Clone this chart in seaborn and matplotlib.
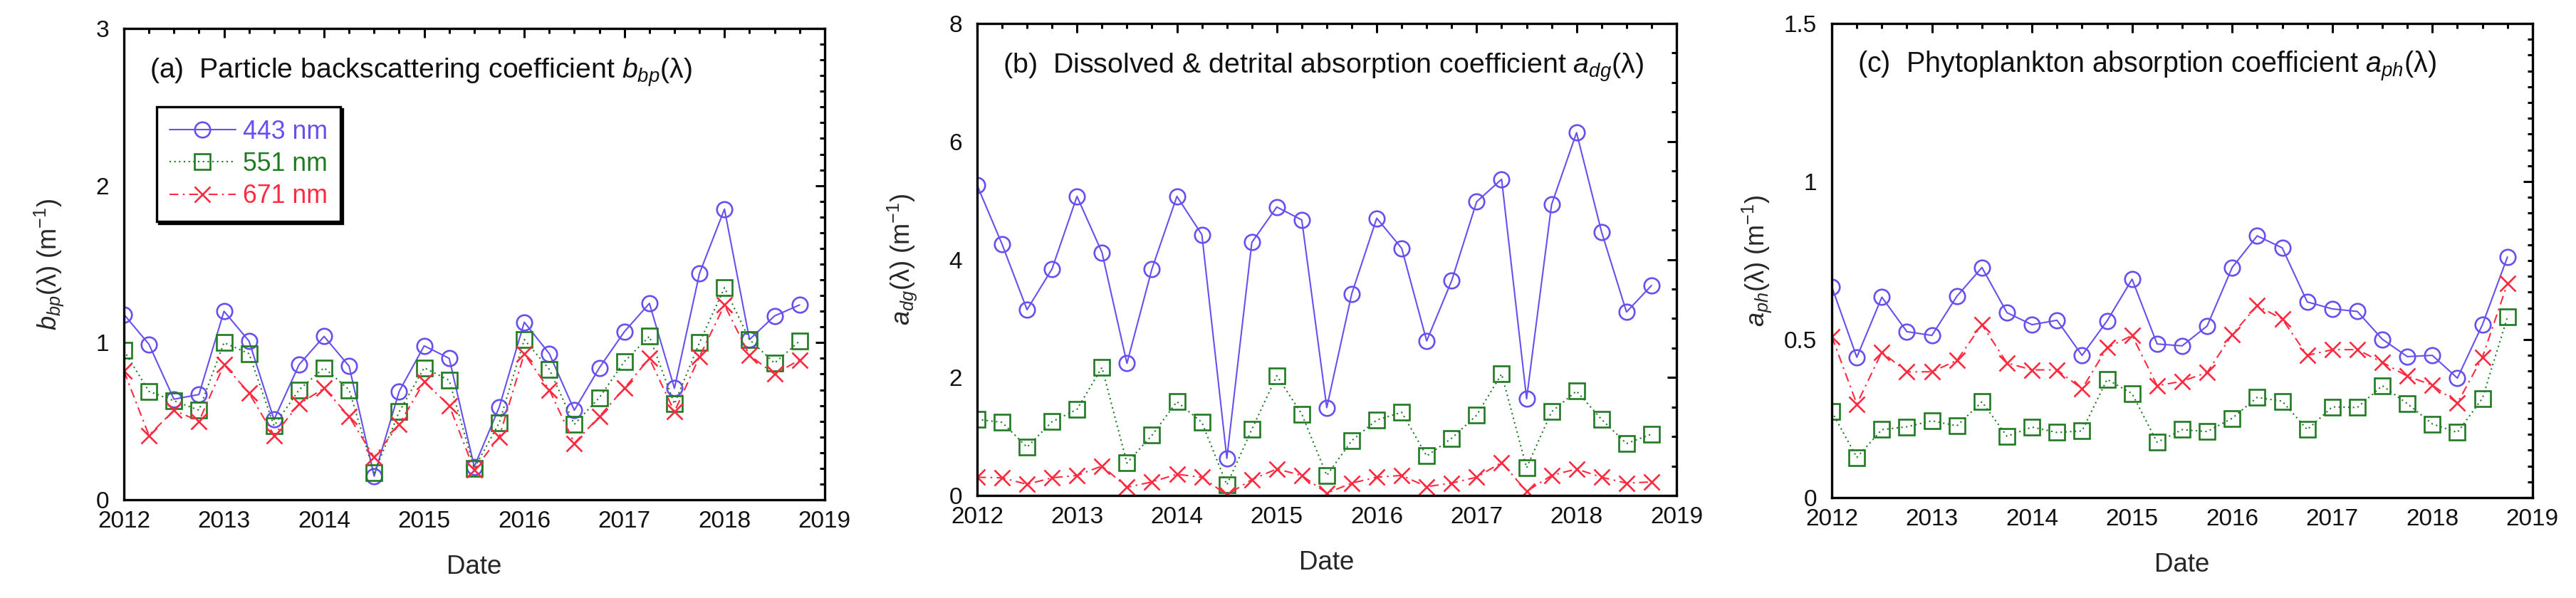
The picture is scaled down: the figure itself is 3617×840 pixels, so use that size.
import matplotlib
matplotlib.use("Agg")
import matplotlib.pyplot as plt
from matplotlib.ticker import MultipleLocator
import pandas as pd
import seaborn as sns

# ---------------- data ----------------
dates = [2012.00, 2012.25, 2012.50, 2012.75, 2013.00, 2013.25, 2013.50, 2013.75,
         2014.00, 2014.25, 2014.50, 2014.75, 2015.00, 2015.25, 2015.50, 2015.75,
         2016.00, 2016.25, 2016.50, 2016.75, 2017.00, 2017.25, 2017.50, 2017.75,
         2018.00, 2018.25, 2018.50, 2018.75]

wavelengths = ["443 nm", "551 nm", "671 nm"]

bbp_443 = [1.18, 0.99, 0.64, 0.67, 1.20, 1.01, 0.51, 0.86, 1.04, 0.85, 0.15, 0.69, 0.98, 0.90,
           0.21, 0.59, 1.13, 0.93, 0.57, 0.84, 1.07, 1.25, 0.71, 1.44, 1.85, 1.02, 1.17, 1.24]
bbp_551 = [0.95, 0.69, 0.63, 0.57, 1.00, 0.93, 0.47, 0.70, 0.84, 0.70, 0.17, 0.56, 0.84, 0.76,
           0.20, 0.49, 1.02, 0.83, 0.48, 0.65, 0.88, 1.04, 0.61, 1.00, 1.35, 1.02, 0.87, 1.01]
bbp_671 = [0.82, 0.41, 0.57, 0.50, 0.86, 0.68, 0.41, 0.61, 0.71, 0.53, 0.27, 0.48, 0.75, 0.60,
           0.19, 0.40, 0.93, 0.70, 0.36, 0.53, 0.71, 0.90, 0.56, 0.91, 1.24, 0.92, 0.80, 0.89]

adg_443 = [5.26, 4.26, 3.15, 3.84, 5.07, 4.12, 2.24, 3.84, 5.07, 4.42, 0.63, 4.29, 4.89, 4.67,
           1.49, 3.42, 4.70, 4.19, 2.62, 3.64, 4.98, 5.36, 1.64, 4.93, 6.15, 4.47, 3.11, 3.56]
adg_551 = [1.29, 1.24, 0.82, 1.25, 1.46, 2.17, 0.55, 1.02, 1.59, 1.24, 0.18, 1.12, 2.03, 1.38,
           0.34, 0.93, 1.28, 1.41, 0.67, 0.97, 1.36, 2.06, 0.47, 1.42, 1.77, 1.29, 0.88, 1.04]
adg_671 = [0.31, 0.30, 0.19, 0.30, 0.34, 0.50, 0.14, 0.23, 0.36, 0.31, 0.01, 0.27, 0.45, 0.34,
           0.04, 0.21, 0.31, 0.34, 0.15, 0.21, 0.31, 0.56, 0.07, 0.34, 0.45, 0.31, 0.21, 0.23]

aph_443 = [0.667, 0.444, 0.634, 0.525, 0.513, 0.637, 0.728, 0.585, 0.547, 0.561, 0.450, 0.559,
           0.691, 0.486, 0.480, 0.543, 0.728, 0.828, 0.790, 0.619, 0.597, 0.589, 0.501, 0.446,
           0.450, 0.378, 0.547, 0.761]
aph_551 = [0.272, 0.127, 0.215, 0.224, 0.243, 0.227, 0.303, 0.194, 0.223, 0.206, 0.211, 0.374,
           0.329, 0.175, 0.215, 0.209, 0.251, 0.317, 0.305, 0.215, 0.287, 0.285, 0.354, 0.297,
           0.233, 0.206, 0.314, 0.571]
aph_671 = [0.510, 0.296, 0.460, 0.398, 0.398, 0.434, 0.547, 0.426, 0.404, 0.404, 0.344, 0.474,
           0.513, 0.354, 0.368, 0.396, 0.516, 0.607, 0.565, 0.450, 0.468, 0.468, 0.428, 0.384,
           0.356, 0.299, 0.444, 0.677]

year_ticks = [2012, 2013, 2014, 2015, 2016, 2017, 2018, 2019]

# ---------------- style ----------------
sns.set_theme(style="white")
plt.rcParams["font.family"] = ["Liberation Sans", "DejaVu Sans"]
plt.rcParams["mathtext.fontset"] = "custom"
plt.rcParams["mathtext.rm"] = "Liberation Sans"
plt.rcParams["mathtext.it"] = "Liberation Sans:italic"
plt.rcParams["mathtext.bf"] = "Liberation Sans:bold"

C_BLUE = "#6650f0"
C_GREEN = "#1f7a22"
C_RED = "#ff2a40"

series_style = {
    "443 nm": dict(color=C_BLUE, marker="o", linestyle="-"),
    "551 nm": dict(color=C_GREEN, marker="s", linestyle=(0, (1, 2.2))),
    "671 nm": dict(color=C_RED, marker="x", linestyle=(0, (6, 3, 1.2, 3))),
}

fig = plt.figure(figsize=(36.17, 8.4), dpi=100)
fig.patch.set_facecolor("white")

panels = [
    dict(rect=[0.0481, 0.1643, 0.2720, 0.7881], data=[bbp_443, bbp_551, bbp_671],
         ylim=(0, 3), minor=0.1, yticks=[0, 1, 2, 3], yticklabels=["0", "1", "2", "3"],
         title=r"(a)  Particle backscattering coefficient $b_{bp}$(λ)", title_w=765,
         ylabel=r"$b_{bp}$(λ) (m$^{-1}$)", legend=True),
    dict(rect=[0.3793, 0.1714, 0.2715, 0.7893], data=[adg_443, adg_551, adg_671],
         ylim=(0, 8), minor=0.5, yticks=[0, 2, 4, 6, 8], yticklabels=["0", "2", "4", "6", "8"],
         title=r"(b)  Dissolved & detrital absorption coefficient $a_{dg}$(λ)", title_w=902,
         ylabel=r"$a_{dg}$(λ) (m$^{-1}$)", legend=False),
    dict(rect=[0.7111, 0.1679, 0.2720, 0.7929], data=[aph_443, aph_551, aph_671],
         ylim=(0, 1.5), minor=0.05, yticks=[0, 0.5, 1, 1.5],
         yticklabels=["0", "0.5", "1", "1.5"],
         title=r"(c)  Phytoplankton absorption coefficient $a_{ph}$(λ)", title_w=815,
         ylabel=r"$a_{ph}$(λ) (m$^{-1}$)", legend=False),
]

LEG_W, LEG_H = 258.0, 161.0   # legend box size in the reference, pixels

titles = []
legend_info = None
for p in panels:
    ax = fig.add_axes(p["rect"])
    ax.set_facecolor("white")
    for name, vals in zip(wavelengths, p["data"]):
        st = series_style[name]
        df = pd.DataFrame({"date": dates, "value": vals})
        sns.lineplot(data=df, x="date", y="value", ax=ax, sort=False, estimator=None,
                     color=st["color"], linestyle=st["linestyle"], linewidth=1.5,
                     marker=st["marker"], markersize=15.5, markerfacecolor="none",
                     markeredgecolor=st["color"], markeredgewidth=1.9,
                     label=name if p["legend"] else None, legend=False)
    ax.set_xlim(2012, 2019)
    ax.set_ylim(*p["ylim"])
    ax.set_xticks(year_ticks)
    ax.set_xticklabels([str(y) for y in year_ticks])
    ax.xaxis.set_minor_locator(MultipleLocator(0.25))
    ax.set_yticks(p["yticks"])
    ax.set_yticklabels(p["yticklabels"])
    ax.yaxis.set_minor_locator(MultipleLocator(p["minor"]))
    ax.tick_params(which="both", direction="in", top=True, right=True, color="black",
                   width=2.2)
    ax.tick_params(which="major", length=9.5, labelsize=24, labelcolor="#111111")
    ax.tick_params(which="minor", length=5)
    ax.tick_params(axis="x", which="major", pad=11)
    ax.tick_params(axis="y", which="major", pad=15)
    for sp in ax.spines.values():
        sp.set_visible(True)
        sp.set_color("black")
        sp.set_linewidth(2.4)
    ax.grid(False)
    ax.set_xlabel("Date", fontsize=26.5, labelpad=22)
    ax.set_ylabel(p["ylabel"], fontsize=26)
    ax.yaxis.set_label_coords(-0.083, 0.5)
    t = ax.text(0.037, 0.895, p["title"], transform=ax.transAxes, fontsize=23,
                ha="left", va="baseline", color="#111111")
    titles.append((t, p["title_w"]))
    if p["legend"]:
        legend_info = ax

def make_legend(ax, fs, spacing):
    handles, labels = ax.get_legend_handles_labels()
    leg = ax.legend(handles, labels, loc="upper left", bbox_to_anchor=(0.047, 0.834),
                    borderaxespad=0, fontsize=fs, frameon=True, fancybox=False,
                    shadow={"color": "black", "alpha": 1.0}, edgecolor="black",
                    framealpha=1, handlelength=2.6, handletextpad=0.3,
                    labelspacing=spacing, borderpad=0.5, labelcolor="linecolor")
    leg.get_frame().set_linewidth(2.4)
    return leg

renderer = fig.canvas.get_renderer()

# legend: fit its box to the reference size
fs, spacing = 24.0, 0.45
leg = make_legend(legend_info, fs, spacing)
for _ in range(3):
    fig.canvas.draw()
    bb = leg.get_frame().get_window_extent(renderer)
    fs = fs * LEG_W / bb.width
    leg = make_legend(legend_info, fs, spacing)
    fig.canvas.draw()
    bb = leg.get_frame().get_window_extent(renderer)
    fs_px = fs * 100 / 72.0
    spacing = max(0.1, spacing + (LEG_H - bb.height) / (2 * fs_px))
    leg = make_legend(legend_info, fs, spacing)

# titles: fit each to the width it has in the reference
fig.canvas.draw()
for t, target in titles:
    w = t.get_window_extent(renderer).width
    t.set_fontsize(t.get_fontsize() * target / w)

fig.savefig("out.png", dpi=100, facecolor="white")
